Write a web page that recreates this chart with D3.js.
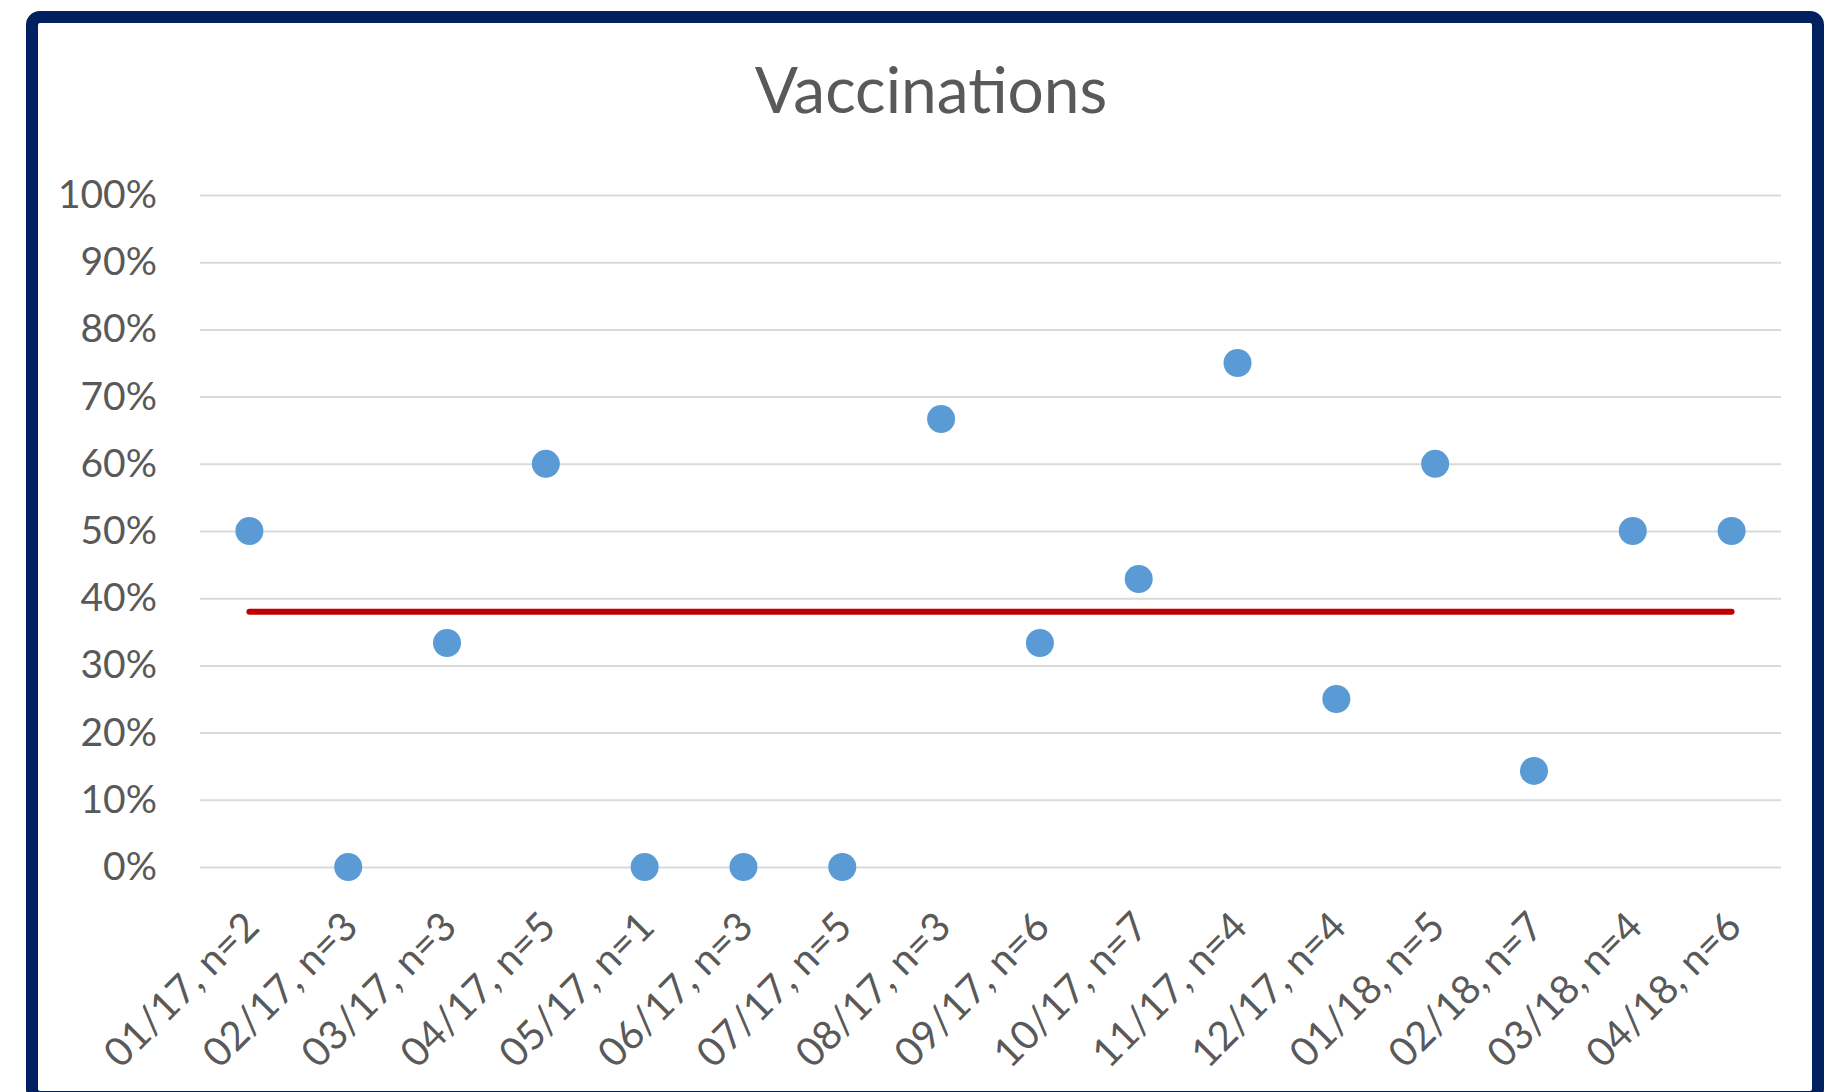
<!DOCTYPE html>
<html>
<head>
<meta charset="utf-8">
<script src="https://cdn.jsdelivr.net/npm/d3@7"></script>
<style>
  html, body { margin: 0; padding: 0; background: #fff; }
  svg { display: block; font-family: Lato, "Open Sans", sans-serif; }
</style>
</head>
<body>
<div id="container"></div>
<script>
/**
 * CONSTANTS AND GLOBALS
 * */
const width = 1829,
  height = 1092,
  margin = { top: 195, bottom: 225, left: 200, right: 48 };

// months and sample sizes (n) shown on the x axis
const months = ["01/17", "02/17", "03/17", "04/17", "05/17", "06/17", "07/17", "08/17",
  "09/17", "10/17", "11/17", "12/17", "01/18", "02/18", "03/18", "04/18"];
const nValues = [2, 3, 3, 5, 1, 3, 5, 3, 6, 7, 4, 4, 5, 7, 4, 6];
// vaccination rate per month
const rates = [0.5, 0, 0.3333, 0.6, 0, 0, 0, 0.6667, 0.3333, 0.4286, 0.75, 0.25, 0.6, 0.1429, 0.5, 0.5];
// red reference line
const target = 0.38;
const yTicks = [0, 0.1, 0.2, 0.3, 0.4, 0.5, 0.6, 0.7, 0.8, 0.9, 1];

const labels = months.map((m, i) => `${m}, n=${nValues[i]}`);
const data = labels.map((l, i) => ({ label: l, value: rates[i] }));

const svg = d3.select("#container")
  .append("svg")
  .attr("width", width)
  .attr("height", height);

// frame
svg.append("rect")
  .attr("x", 32)
  .attr("y", 17)
  .attr("width", 1786)
  .attr("height", 1080)
  .attr("rx", 8)
  .attr("fill", "#fff")
  .attr("stroke", "#002060")
  .attr("stroke-width", 12);

// title
svg.append("text")
  .attr("x", 931)
  .attr("y", 113)
  .attr("text-anchor", "middle")
  .attr("font-size", 64)
  .attr("fill", "#595959")
  .text("Vaccinations");

/**
 * SCALES
 * */
const x = d3.scaleBand()
  .domain(labels)
  .range([margin.left, width - margin.right]);

const y = d3.scaleLinear()
  .domain([0, 1])
  .range([height - margin.bottom, margin.top]);

/**
 * AXES
 * */
const yAxis = d3.axisLeft(y)
  .tickValues(yTicks)
  .tickFormat(d3.format(".0%"))
  .tickSize(-(width - margin.left - margin.right))
  .tickPadding(43);

svg.append("g")
  .attr("transform", `translate(${margin.left},0)`)
  .call(yAxis)
  .call(g => g.select(".domain").remove())
  .call(g => g.selectAll(".tick line").attr("stroke", "#d9d9d9").attr("stroke-width", 2))
  .call(g => g.selectAll(".tick text")
    .attr("font-size", 39)
    .attr("fill", "#595959")
    .attr("font-family", "Lato, sans-serif"));

const xAxis = d3.axisBottom(x).tickSize(0).tickPadding(0);

svg.append("g")
  .attr("transform", `translate(0,${y(0)})`)
  .call(xAxis)
  .call(g => g.select(".domain").remove())
  .call(g => g.selectAll(".tick text")
    .attr("font-size", 40)
    .attr("fill", "#595959")
    .attr("font-family", "Lato, sans-serif")
    .attr("text-anchor", "end")
    .attr("dy", 0)
    .attr("y", 0)
    .attr("transform", "translate(12,62) rotate(-45)"));

/**
 * MARKS
 * */
const cx = d => x(d) + x.bandwidth() / 2;

svg.append("line")
  .attr("x1", cx(labels[0]))
  .attr("x2", cx(labels[labels.length - 1]))
  .attr("y1", y(target))
  .attr("y2", y(target))
  .attr("stroke", "#c00000")
  .attr("stroke-width", 6)
  .attr("stroke-linecap", "round");

svg.selectAll(".dot")
  .data(data)
  .join("circle")
  .attr("class", "dot")
  .attr("cx", d => cx(d.label))
  .attr("cy", d => y(d.value))
  .attr("r", 14)
  .attr("fill", "#5b9bd5");
</script>
</body>
</html>
